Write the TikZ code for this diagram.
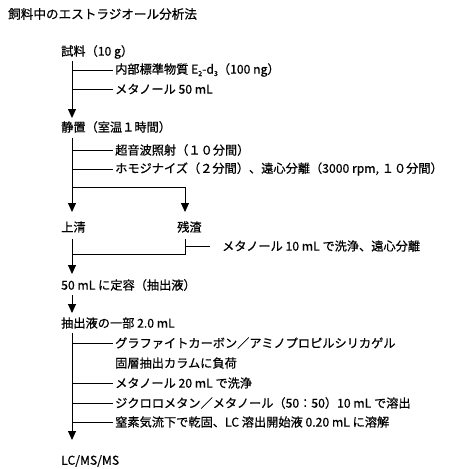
\documentclass[tikz,border=0pt]{standalone}
\usepackage{fontspec}
\setmainfont{Noto Sans CJK JP}[FakeBold=0.6]
\usetikzlibrary{arrows.meta}
\newcommand{\mysubs}[1]{\raisebox{-0.35ex}{\fontsize{7}{8}\selectfont #1}}
\begin{document}
\begin{tikzpicture}[x=1pt,y=-1pt,
  txt/.style={anchor=west,inner sep=0pt,font=\fontsize{12.2}{14}\selectfont},
  flow/.style={-{Triangle[width=8pt,length=9pt]},line width=0.9pt},
  ln/.style={line width=0.9pt}]
\useasboundingbox (0,0) rectangle (459,469);
% title
\node[txt,font=\fontsize{12.6}{14}\selectfont] (title) at (8,14) {飼料中のエストラジオール分析法};
% step 1
\node[txt] (s1) at (61,52) {試料（10 g）};
\node[txt] (b11) at (115,70) {内部標準物質 E\mysubs{2}-d\mysubs{3}（100 ng）};
\node[txt] (b12) at (115,89) {メタノール 50 mL};
% step 2
\node[txt] (s2) at (61,127) {静置（室温１時間）};
\node[txt] (b21) at (115,150) {超音波照射（１０分間）};
\node[txt] (b22) at (115,169) {ホモジナイズ（２分間）、遠心分離（3000 rpm, １０分間）};
% split
\node[txt] (u) at (61,227) {上清};
\node[txt] (z) at (177,227) {残渣};
\node[txt] (b31) at (222,246) {メタノール 10 mL で洗浄、遠心分離};
% step 3
\node[txt] (s3) at (61,285) {50 mL に定容（抽出液）};
\node[txt] (s4) at (61,323) {抽出液の一部 2.0 mL};
\node[txt] (b41) at (115,343) {グラファイトカーボン／アミノプロピルシリカゲル};
\node[txt] (b41b) at (115,363) {固層抽出カラムに負荷};
\node[txt] (b42) at (115,383) {メタノール 20 mL で洗浄};
\node[txt] (b43) at (115,403) {ジクロロメタン／メタノール（50：50）10 mL で溶出};
\node[txt] (b44) at (115,422) {窒素気流下で乾固、LC 溶出開始液 0.20 mL に溶解};
\node[txt] (s5) at (61,461) {LC/MS/MS};
% connector points
\coordinate (p1) at (72,61);   \coordinate (t1) at (72,118);
\coordinate (p2) at (72,138);  \coordinate (t2) at (72,212);
\coordinate (split) at (72,187); \coordinate (tz) at (185,212);
\coordinate (pu) at (72,239);  \coordinate (t3) at (72,274);
\coordinate (pz) at (185,239); \coordinate (join) at (185,254);
\coordinate (bz) at (185,246); \coordinate (bze) at (210,246);
\coordinate (p3) at (72,295);  \coordinate (t4) at (72,313);
\coordinate (p4) at (72,333);  \coordinate (t5) at (72,440);
% connectors
\draw[flow] (p1) -- (t1);
\foreach \b in {b11,b12} \draw[ln] (\b.west -| p1) -- ([xshift=-2pt]\b.west);
\draw[flow] (p2) -- (t2);
\foreach \b in {b21,b22} \draw[ln] (\b.west -| p2) -- ([xshift=-2pt]\b.west);
\draw[flow] (split) -| (tz);
\draw[ln] (pz) |- (join -| pu);
\draw[ln] (bz) -- (bze);
\draw[flow] (pu) -- (t3);
\draw[flow] (p3) -- (t4);
\draw[flow] (p4) -- (t5);
\foreach \b in {b41,b42,b43,b44} \draw[ln] (\b.west -| p4) -- ([xshift=-2pt]\b.west);
\end{tikzpicture}
\end{document}
